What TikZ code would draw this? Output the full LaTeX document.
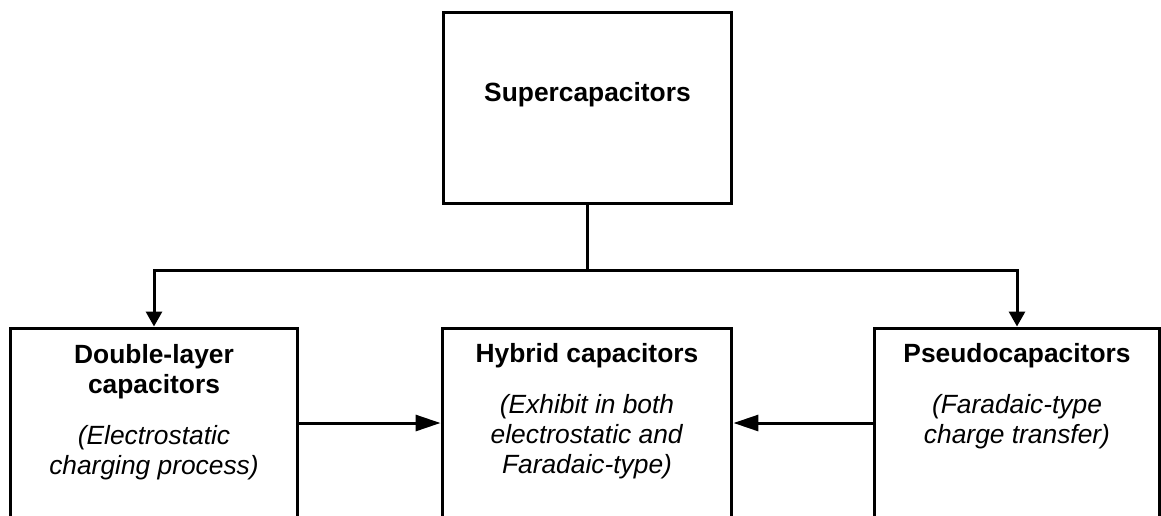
\documentclass[tikz,border=0pt]{standalone}
\usepackage{fontspec}
\setmainfont{Liberation Sans}
\usetikzlibrary{arrows.meta,positioning}

\begin{document}
\begin{tikzpicture}[
  x=0.02cm, y=-0.02cm,
  capbox/.style={rectangle, draw, line width=0.06cm,
                 minimum width=#1, minimum height=3.8cm},
  capbox/.default=5.78cm,
  capText/.style={align=center, inner sep=0pt,
                  font=\fontsize{15}{17}\selectfont},
  arr/.style={-{Triangle[length=#1, width=0.32cm]}, line width=0.06cm},
  arr/.default=0.3cm,
  link/.style={line width=0.06cm}
]
  \useasboundingbox (0,0) rectangle (1161,515);
  \clip (0,0) rectangle (1161,515);

  \node[capbox, minimum height=3.84cm] (sup)    at (587.5,108) {};
  \node[capbox=5.76cm]                 (edlc)   at (154,423)   {};
  \node[capbox=5.8cm]                  (hyb)    at (587,423)   {};
  \node[capbox=5.72cm]                 (pseudo) at (1017,423)  {};

  % Box texts
  \node[capText] (supT) at (587.5,95) {\textbf{Supercapacitors}};
  \node[capText] (edlcT) at (154,412)
    {\textbf{Double-layer}\\\textbf{capacitors}\\[0.43cm]
     \textit{(Electrostatic}\\\textit{charging process)}};
  \node[capText] (hybT) at (587,411)
    {\textbf{Hybrid capacitors}\\[0.43cm]
     \textit{(Exhibit in both}\\\textit{electrostatic and}\\
     \textit{Faradaic-type)}};
  \node[capText] (pseudoT) at (1017,396)
    {\textbf{Pseudocapacitors}\\[0.43cm]
     \textit{(Faradaic-type}\\\textit{charge transfer)}};

  \coordinate (split) at ([yshift=-1.3cm]sup.south);
  \draw[link] (sup.south) -- (split);
  \foreach \b in {edlc, pseudo}
    \draw[arr] (split) -| (\b.north);
  \draw[arr=0.5cm] (edlc.east) -- (hyb.west);
  \draw[arr=0.5cm] (pseudo.west) -- (hyb.east);
\end{tikzpicture}
\end{document}
